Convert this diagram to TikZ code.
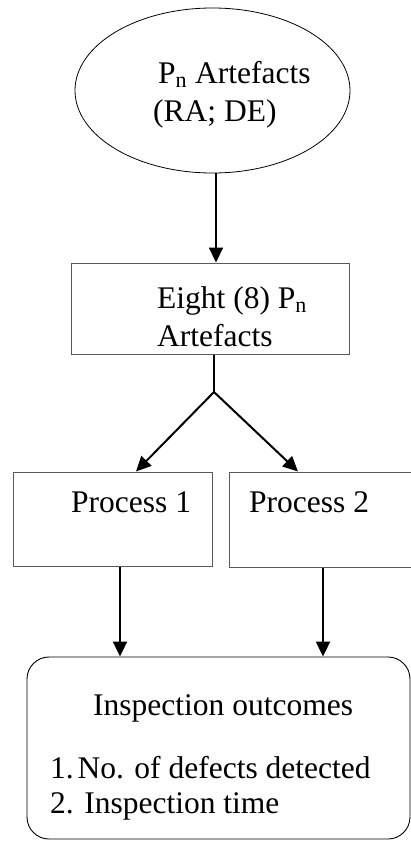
\documentclass[tikz,border=0pt]{standalone}
\usepackage{fontspec}
\setmainfont{Liberation Serif}
\usetikzlibrary{arrows.meta,shapes.geometric}

\begin{document}
\begin{tikzpicture}[x=1pt,y=-1pt,>={Triangle[length=15pt,width=14pt]},
    every node/.style={font=\fontsize{31.5}{37.5}\selectfont},
    box/.style={draw=black!65,line width=1pt,rectangle,inner sep=0pt},
    txt/.style={anchor=base west,align=left,inner sep=0pt},
    flow/.style={->,line width=2pt}]
      \useasboundingbox (0,0) rectangle (411,841);

      \node[draw,ellipse,line width=0.8pt,minimum width=275pt,minimum height=165pt] (src) at (212.5,90.5) {};
      \node[txt] (srctxt) at (153,121) {\hspace*{5pt}P\textsubscript{n} Artefacts\\(RA; DE)};

      \node[box,minimum width=278pt,minimum height=91pt] (eight) at (210,308.5) {};
      \node[txt] (eighttxt) at (157,346) {Eight (8) P\textsubscript{n}\\Artefacts};

      \node[box,minimum width=199pt,minimum height=94pt] (proc1) at (112.5,519) {};
      \node[txt] (proc1txt) at (71,512) {Process 1};

      \node[box,minimum width=182pt,minimum height=95pt] (proc2) at (320,519.5) {};
      \node[txt] (proc2txt) at (249,512) {Process 2};

      \node[draw,rounded corners=22pt,line width=0.9pt,minimum width=383pt,minimum height=182pt] (outcome) at (218.5,748) {};
      \node[txt] (outtitle) at (93,715) {Inspection outcomes};
      \node[txt,font=\fontsize{31.5}{35}\selectfont] (outlist) at (50,813) {1.\hspace{0.12em}No. of defects detected\\2. Inspection time};

      \coordinate (fork) at (214,392);

      \path[flow]
      ([xshift=3.5pt]src.south) edge ([xshift=3.5pt]src.south |- eight.north)

      (fork) edge ([xshift=23.5pt]proc1.north)
      (fork) edge ([xshift=-22pt]proc2.north)

      ([xshift=7.5pt]proc1.south) edge ([xshift=7.5pt]proc1.south |- outcome.north)
      ([xshift=3pt]proc2.south) edge ([xshift=3pt]proc2.south |- outcome.north)
      ;
      \draw[line width=1.2pt] (eight.south -| fork) -- (fork);
    \end{tikzpicture}
\end{document}
